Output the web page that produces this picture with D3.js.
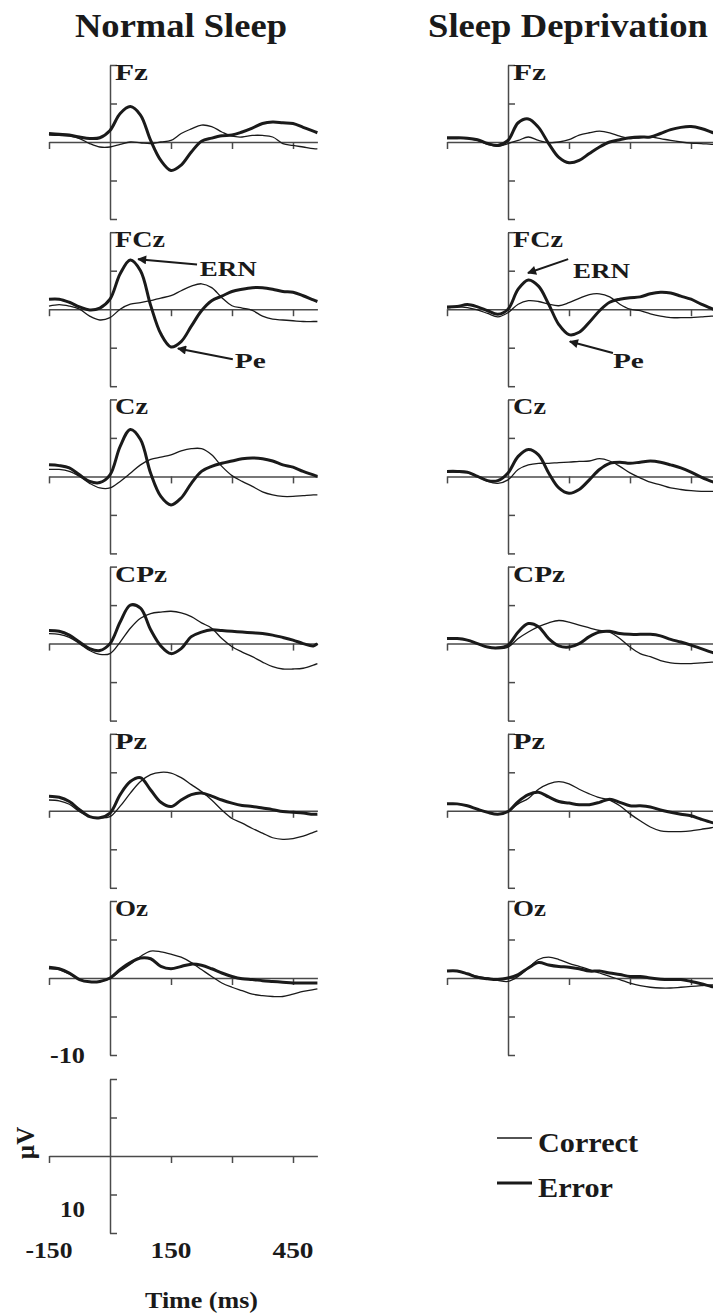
<!DOCTYPE html>
<html>
<head>
<meta charset="utf-8">
<script src="https://cdn.jsdelivr.net/npm/d3@7"></script>
<style>
  body { margin: 0; background: #fff; }
  text { font-family: "Liberation Serif", "DejaVu Serif", serif; font-weight: bold; fill: #1a1a1a; }
</style>
</head>
<body>
<div id="chart"></div>
<script>
// sample times (ms) and channel names
const times = [-150,-125,-100,-75,-50,-25,0,25,50,75,100,125,150,175,200,225,250,275,300,325,350,375,400,425,450,475,500,510];
const channels = ["Fz", "FCz", "Cz", "CPz", "Pz", "Oz"];
const conditions = ["Normal Sleep", "Sleep Deprivation"];

// amplitudes in µV (negative plotted up), one row per channel
const normalError = [
  [-1.1,-1.0,-0.9,-0.65,-0.45,-0.55,-1.5,-3.7,-4.6,-3.5,-0.2,2.4,3.7,3.0,1.3,-0.1,-0.5,-0.8,-0.9,-1.3,-1.8,-2.4,-2.6,-2.5,-2.4,-1.9,-1.4,-1.2],
  [-1.3,-1.3,-0.9,-0.3,0.1,-0.15,-1.3,-4.6,-6.4,-5.0,-0.5,3.2,4.9,4.2,2.2,0.2,-1.1,-1.7,-2.3,-2.6,-2.8,-2.8,-2.6,-2.3,-2.2,-1.75,-1.2,-1.0],
  [-1.5,-1.4,-1.1,-0.2,0.65,0.8,-0.2,-3.9,-6.1,-4.8,-0.4,2.6,3.7,2.8,0.9,-0.65,-1.3,-1.7,-2.0,-2.3,-2.4,-2.3,-2.0,-1.5,-1.2,-0.65,-0.2,0],
  [-1.7,-1.6,-1.1,-0.2,0.65,0.9,0,-2.8,-5.0,-4.6,-1.8,0.3,1.3,0.65,-0.9,-1.5,-1.8,-1.7,-1.6,-1.5,-1.4,-1.3,-1.1,-0.8,-0.45,0,0.3,0],
  [-1.9,-1.75,-1.2,-0.15,0.75,0.9,0.3,-2.1,-3.8,-4.3,-2.7,-1.1,-0.55,-1.4,-2.1,-2.3,-1.9,-1.4,-1.0,-0.7,-0.55,-0.35,-0.15,0.1,0.2,0.3,0.45,0.45],
  [-1.4,-1.2,-0.65,0.2,0.5,0.45,0,-1.1,-2.0,-2.6,-2.5,-1.5,-1.2,-1.5,-1.8,-1.65,-1.2,-0.65,-0.2,0.1,0.2,0.35,0.45,0.55,0.65,0.65,0.65,0.65]
];
const normalCorrect = [
  [-0.9,-0.85,-0.75,-0.45,0.2,0.65,0.65,0.3,0,0.1,0.2,0,-0.2,-1.1,-1.7,-2.2,-2.0,-1.3,-0.75,-0.65,-0.85,-0.85,-0.65,0.2,0.45,0.65,0.85,0.9],
  [-0.4,-0.6,-0.4,0,0.9,1.4,1.1,0,-0.65,-0.85,-1.1,-1.45,-1.75,-2.4,-3.0,-3.3,-2.8,-1.5,-0.45,-0.15,0.15,0.9,1.3,1.4,1.5,1.6,1.6,1.6],
  [-0.9,-0.9,-0.65,0,0.9,1.5,1.5,0.65,-0.4,-1.5,-2.2,-2.5,-2.8,-3.3,-3.6,-3.6,-2.8,-1.3,-0.1,0.65,1.3,2.0,2.4,2.6,2.6,2.5,2.4,2.4],
  [-1.3,-1.2,-0.8,0,0.9,1.4,1.3,-0.2,-2.0,-3.3,-3.9,-4.1,-4.2,-4.0,-3.5,-2.7,-2.0,-0.65,0.4,1.1,1.7,2.4,3.0,3.3,3.3,3.2,2.8,2.6],
  [-1.4,-1.3,-0.85,0.1,0.75,0.9,0.75,-0.6,-2.3,-3.8,-4.7,-5.0,-4.9,-4.3,-3.4,-2.5,-1.4,-0.1,1.0,1.6,2.3,2.9,3.5,3.7,3.6,3.3,2.8,2.6],
  [-1.2,-1.1,-0.5,0.2,0.5,0.45,0.1,-0.9,-1.8,-2.8,-3.5,-3.4,-3.1,-2.7,-2.0,-1.1,-0.2,0.65,1.2,1.65,2.1,2.3,2.4,2.4,2.1,1.75,1.5,1.4]
];
const deprivedError = [
  [-0.55,-0.55,-0.5,-0.3,0.2,0.45,-0.2,-2.5,-3.0,-1.9,0.2,2.0,2.7,2.4,1.5,0.65,0,-0.3,-0.55,-0.65,-0.65,-1.1,-1.6,-1.9,-2.0,-1.75,-1.3,-1.1],
  [-0.3,-0.35,-0.6,-0.3,0.2,0.65,0,-2.6,-3.8,-3.0,-0.65,2.0,3.3,3.0,1.7,0.2,-0.9,-1.3,-1.5,-1.6,-2.0,-2.2,-2.1,-1.7,-1.3,-0.65,-0.1,0.1],
  [-0.65,-0.65,-0.55,0,0.55,0.55,-0.45,-2.6,-3.5,-2.8,-0.45,1.5,2.2,1.7,0.45,-0.9,-1.7,-1.85,-1.7,-1.85,-2.0,-1.85,-1.5,-1.1,-0.55,0.1,0.65,0.8],
  [-0.65,-0.65,-0.45,0,0.45,0.55,0.2,-1.5,-2.6,-2.2,-0.65,0.3,0.45,0,-0.9,-1.5,-1.6,-1.3,-1.2,-1.2,-1.2,-1.0,-0.55,-0.2,0.2,0.65,1.1,1.3],
  [-0.9,-0.9,-0.65,-0.2,0.2,0.45,0.1,-1.2,-2.1,-2.4,-1.8,-1.2,-1.0,-0.8,-0.8,-1.1,-1.5,-1.1,-0.65,-0.65,-0.5,-0.1,0.2,0.45,0.65,1.1,1.5,1.6],
  [-0.9,-0.9,-0.55,-0.1,0.1,0.2,0,-0.45,-1.3,-2.0,-1.7,-1.5,-1.4,-1.2,-0.9,-0.9,-0.65,-0.45,-0.2,-0.2,0,0.15,0.2,0.2,0.45,0.75,1.1,1.2]
];
const deprivedCorrect = [
  [-0.45,-0.45,-0.45,-0.2,0.3,0.55,0.2,-0.2,-0.65,-0.2,0.1,0,-0.3,-0.9,-1.2,-1.4,-1.2,-0.75,-0.45,-0.55,-0.65,-0.45,-0.2,0,0.15,0.2,0.3,0.3],
  [-0.15,-0.3,-0.2,0.1,0.55,1.0,0.45,-0.65,-1.1,-1.0,-0.65,-0.45,-0.85,-1.4,-1.9,-2.0,-1.6,-0.65,0,0.2,0.6,0.9,1.1,1.1,1.1,1.0,0.9,0.9],
  [-0.55,-0.55,-0.45,0,0.65,0.9,0.45,-0.9,-1.5,-1.7,-1.7,-1.8,-1.85,-1.95,-2.0,-2.3,-2.0,-1.3,-0.45,0.2,0.75,1.1,1.5,1.7,1.85,1.95,1.95,1.95],
  [-0.55,-0.55,-0.45,0,0.45,0.65,0.45,-0.65,-1.5,-2.2,-2.7,-3.0,-2.8,-2.4,-2.05,-1.7,-1.5,-0.65,0.45,1.3,1.7,2.2,2.5,2.6,2.6,2.5,2.4,2.4],
  [-0.9,-0.9,-0.65,-0.2,0.2,0.45,0.1,-0.9,-1.6,-2.8,-3.5,-3.8,-3.5,-2.8,-2.2,-1.7,-1.4,-0.65,0.4,1.3,2.1,2.6,2.7,2.7,2.6,2.4,2.2,2.1],
  [-0.9,-0.85,-0.55,-0.2,0,0.3,0.45,-0.2,-1.3,-2.4,-2.7,-2.4,-1.9,-1.5,-1.1,-0.65,-0.2,0.2,0.65,1.0,1.2,1.3,1.3,1.2,1.1,1.0,0.9,0.9]
];

const xTicks = [-150, 150, 300, 450];
const xTickLabels = [-150, 150, 450];
const yTicks = [-10, -5, 5, 10];
const legendItems = ["Correct", "Error"];

// ERN / Pe callouts on FCz: [tip time, tip µV, tail time, tail µV, label time, label µV]
const annotations = [
  [{ name: "ERN", tip: [69, -6.5], tail: [214, -5.8], text: [221, -4.3] },
   { name: "Pe", tip: [167, 5.1], tail: [302, 6.5], text: [307, 7.7] }],
  [{ name: "ERN", tip: [49, -4.7], tail: [148, -6.5], text: [160, -4.0] },
   { name: "Pe", tip: [152, 4.2], tail: [258, 5.7], text: [258, 7.6] }]
];

const width = 713, height = 1315;
const pxPerMs = 61 / 150;
const halfH = 77;
const colX0 = [110, 508];
const firstBase = 142, panelStep = 167.2;
const labelWidths = [33, 50, 33, 52, 32, 33];
const ink = "#1a1a1a", axisInk = "#4a4a4a";

const svg = d3.select("#chart").append("svg")
  .attr("width", width)
  .attr("height", height);

svg.append("defs").append("marker")
  .attr("id", "arrow")
  .attr("viewBox", "0 0 10 10")
  .attr("refX", 9).attr("refY", 5)
  .attr("markerWidth", 11).attr("markerHeight", 9)
  .attr("markerUnits", "userSpaceOnUse")
  .attr("orient", "auto")
  .append("path").attr("d", "M0,0 L10,5 L0,10 Z").attr("fill", ink);

function label(g, x, y, s, size, len, anchor) {
  const t = g.append("text")
    .attr("x", x).attr("y", y)
    .attr("font-size", size)
    .attr("text-anchor", anchor || "start")
    .text(s);
  if (len) t.attr("textLength", len).attr("lengthAdjust", "spacingAndGlyphs");
  return t;
}

function drawAxes(g, x, y) {
  g.append("g")
    .attr("transform", `translate(0,${y(0)})`)
    .call(d3.axisBottom(x).tickValues(xTicks).tickSize(7).tickSizeOuter(0).tickFormat(""))
    .call(a => a.selectAll("path,line").attr("stroke", axisInk).attr("stroke-width", 1.5));
  g.append("g")
    .attr("transform", `translate(${x(0)},0)`)
    .call(d3.axisRight(y).tickValues(yTicks).tickSize(7).tickSizeOuter(0).tickFormat(""))
    .call(a => a.selectAll("path,line").attr("stroke", axisInk).attr("stroke-width", 1.5));
}

const line = (x, y) => d3.line()
  .x((d, i) => x(times[i]))
  .y(d => y(d))
  .curve(d3.curveCatmullRom.alpha(0.5));

const series = [[normalCorrect, normalError], [deprivedCorrect, deprivedError]];
const titleWidths = [212, 280];

conditions.forEach((cond, c) => {
  const x0 = colX0[c];
  const x = d3.scaleLinear().domain([-150, 510]).range([x0 - 150 * pxPerMs, x0 + 510 * pxPerMs]);
  const col = svg.append("g");

  label(col, c === 0 ? 181 : 568, 37, cond, 33, titleWidths[c], "middle");

  channels.forEach((ch, i) => {
    const base = firstBase + i * panelStep;
    const y = d3.scaleLinear().domain([-10, 10]).range([base - halfH, base + halfH]);
    const g = col.append("g");
    drawAxes(g, x, y);

    label(g, x(0) + 5, y(-10) + 15, ch, 23, labelWidths[i]);

    const [correct, error] = series[c];
    g.append("path")
      .attr("d", line(x, y)(correct[i]))
      .attr("fill", "none").attr("stroke", ink).attr("stroke-width", 1.3);
    g.append("path")
      .attr("d", line(x, y)(error[i]))
      .attr("fill", "none").attr("stroke", ink).attr("stroke-width", 3);

    if (ch === "FCz") {
      annotations[c].forEach(a => {
        g.append("line")
          .attr("x1", x(a.tail[0])).attr("y1", y(a.tail[1]))
          .attr("x2", x(a.tip[0])).attr("y2", y(a.tip[1]))
          .attr("stroke", ink).attr("stroke-width", 2)
          .attr("marker-end", "url(#arrow)");
        label(g, x(a.text[0]), y(a.text[1]), a.name, 22, a.name === "ERN" ? 57 : 31);
      });
    }
  });

  if (c === 0) {
    // calibration panel
    const base = 1156;
    const y = d3.scaleLinear().domain([-10, 10]).range([base - halfH, base + halfH]);
    const g = col.append("g");
    drawAxes(g, x, y);
    label(g, x(0) - 25, y(-10) - 16, "-10", 23, 35, "end");
    label(g, x(0) - 25, y(10) - 16, "10", 23, 25, "end");
    xTickLabels.forEach(v => label(g, x(v), base + 102, String(v), 23, v < 0 ? 47 : 41, "middle"));
    g.append("text")
      .attr("transform", `translate(${x(0) - 76},${base - 13}) rotate(-90)`)
      .attr("font-size", 25)
      .attr("text-anchor", "middle")
      .text("µV");
    label(g, x(225), base + 152, "Time (ms)", 23, 113, "middle");
  } else {
    // legend
    const leg = col.append("g");
    legendItems.forEach((name, k) => {
      const ly = 1138 + k * 45;
      leg.append("line")
        .attr("x1", x0 - 11).attr("x2", x0 + 24)
        .attr("y1", ly).attr("y2", ly)
        .attr("stroke", ink).attr("stroke-width", k === 0 ? 1.3 : 3);
      label(leg, x0 + 30, ly + 14, name, 28, k === 0 ? 100 : 75);
    });
  }
});
</script>
</body>
</html>
